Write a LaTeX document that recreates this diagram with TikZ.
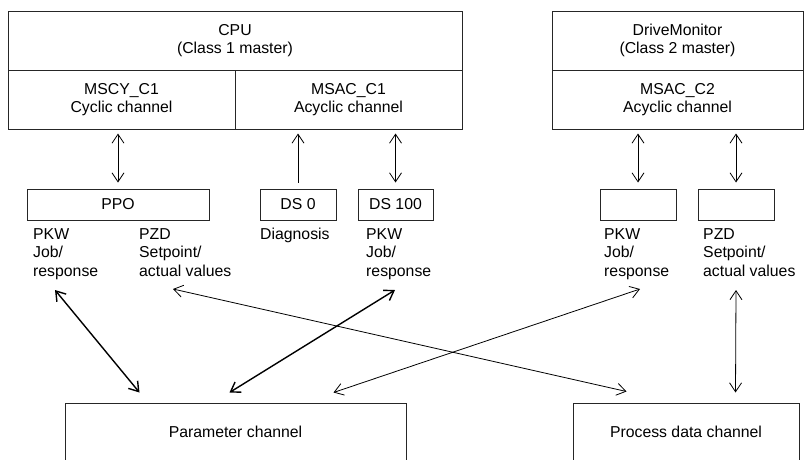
\documentclass[tikz,border=0pt]{standalone}
\usepackage{fontspec}
\setmainfont{Liberation Sans}
\usetikzlibrary{arrows.meta}

\begin{document}
\begin{tikzpicture}[
  x=1pt,y=-1pt,
  font=\fontsize{15.8}{18.5}\selectfont,
  masterbox/.style={draw=black!85,line width=1pt,minimum height=59pt,inner sep=0pt,align=center},
  databox/.style={draw=black!85,line width=1pt,minimum height=31pt,inner sep=0pt},
  chanbox/.style={draw=black!85,line width=1pt,minimum height=58pt,inner sep=0pt},
  datalabel/.style={anchor=north west,inner sep=0pt,align=left},
  link/.style={line width=0.8pt,{Straight Barb[length=9pt,width=12pt]}-{Straight Barb[length=9pt,width=12pt]}},
  uplink/.style={line width=0.8pt,-{Straight Barb[length=9pt,width=12pt]}},
  heavy/.style={line width=1.4pt}
]
\clip (0,0) rectangle (805,459);

% Class 1 master
\node[masterbox,minimum width=454pt] (cpu) at (235,40.5) {CPU\\(Class 1 master)};
\node[masterbox,minimum width=227pt] (mscy) at (121.5,99.5) {MSCY\_C1\\Cyclic channel};
\node[masterbox,minimum width=227pt] (msac1) at (348.5,99.5) {MSAC\_C1\\Acyclic channel};

% Class 2 master
\node[masterbox,minimum width=251pt] (dm) at (677.5,40.5) {DriveMonitor\\(Class 2 master)};
\node[masterbox,minimum width=251pt] (msac2) at (677.5,99.5) {MSAC\_C2\\Acyclic channel};

% data records
\node[databox,minimum width=182pt] (ppo) at (118,204.5) {PPO};
\node[databox,minimum width=76pt] (ds0) at (298,204.5) {DS 0};
\node[databox,minimum width=75pt] (ds100) at (395.5,204.5) {DS 100};
\node[databox,minimum width=76pt] (dmpkwbox) at (638,204.5) {};
\node[databox,minimum width=76pt] (dmpzdbox) at (736,204.5) {};

% labels under the records
\node[datalabel] (ppopkw) at (33,228) {PKW\\Job/\\response};
\node[datalabel] (ppopzd) at (139,228) {PZD\\Setpoint/\\actual values};
\node[datalabel] (ds0diag) at (260,228) {Diagnosis};
\node[datalabel] (ds100pkw) at (366,228) {PKW\\Job/\\response};
\node[datalabel] (dmpkw) at (604,228) {PKW\\Job/\\response};
\node[datalabel] (dmpzd) at (703,228) {PZD\\Setpoint/\\actual values};

% channels
\node[chanbox,minimum width=341pt] (param) at (235.5,432) {Parameter channel};
\node[chanbox,minimum width=226pt] (proc) at (686,432) {Process data channel};

% masters to records
\draw[link,shorten <=6pt,shorten >=4pt] (ppo.north) -- (ppo.north |- mscy.south);
\draw[uplink,shorten <=6pt,shorten >=4pt] (ds0.north) -- (ds0.north |- msac1.south);
\draw[link,shorten <=6pt,shorten >=4pt] (ds100.north) -- (ds100.north |- msac1.south);
\draw[link,shorten <=6pt,shorten >=4pt] (dmpkwbox.north) -- (dmpkwbox.north |- msac2.south);
\draw[link,shorten <=6pt,shorten >=4pt] (dmpzdbox.north) -- (dmpzdbox.north |- msac2.south);

% records to channels
\draw[link,heavy] ([shift={(22,62)}]ppopkw.north west) -- ([shift={(75,-10)}]param.north west);
\draw[link] ([shift={(34,61)}]ppopzd.north west) -- ([shift={(54,-11)}]proc.north west);
\draw[link,heavy] ([shift={(29,62)}]ds100pkw.north west) -- ([shift={(165,-10)}]param.north west);
\draw[link] ([shift={(36,61)}]dmpkw.north west) -- ([shift={(269,-10)}]param.north west);
\draw[link] ([shift={(33,62)}]dmpzd.north west) -- ([shift={(163,-10)}]proc.north west);

\end{tikzpicture}
\end{document}
